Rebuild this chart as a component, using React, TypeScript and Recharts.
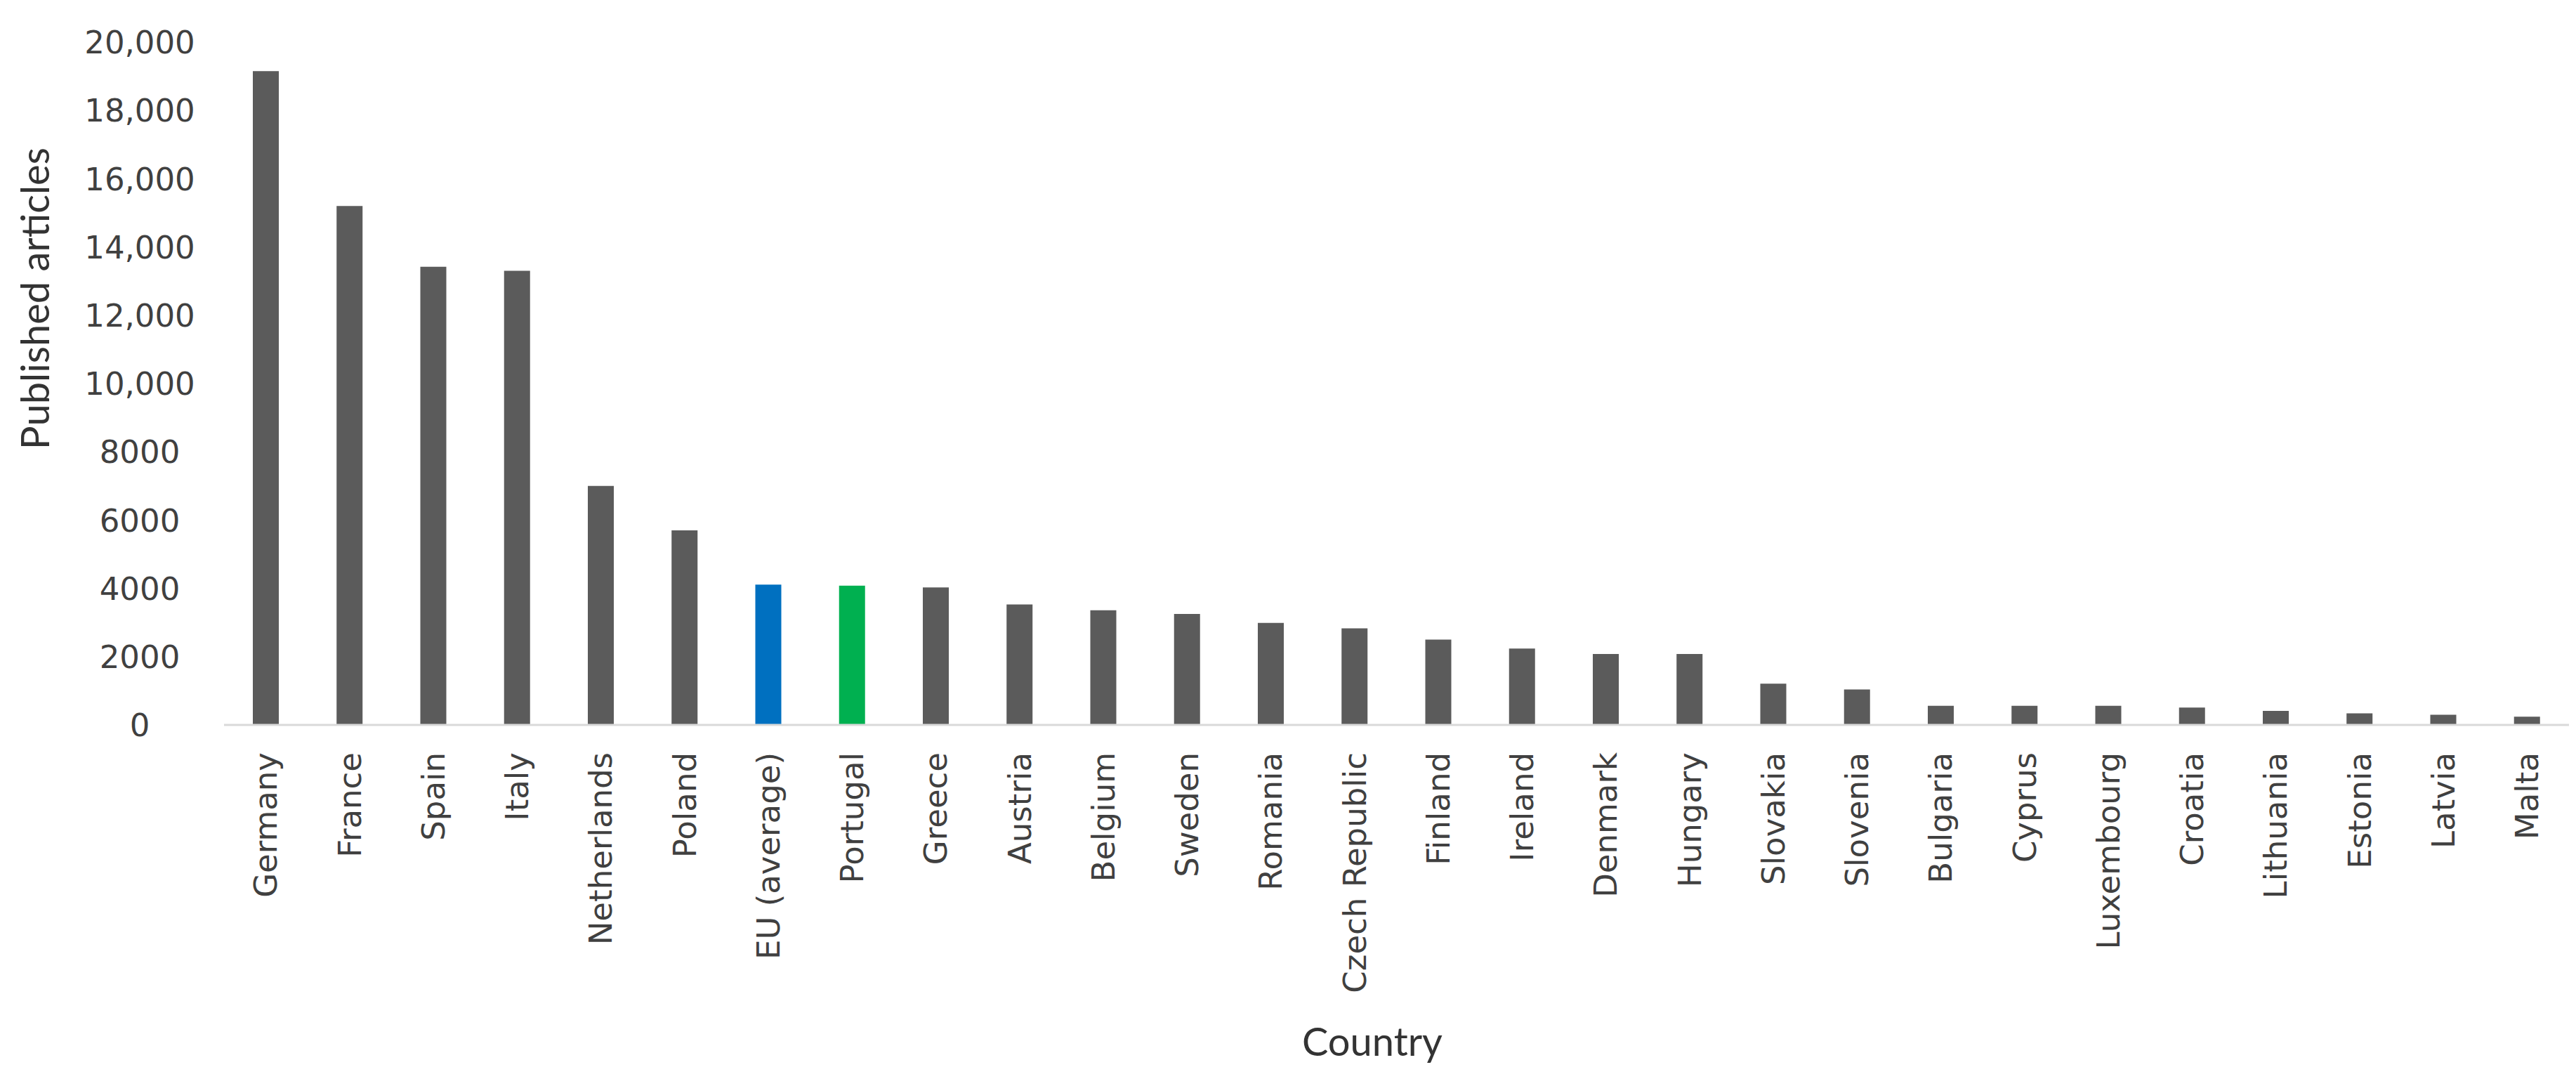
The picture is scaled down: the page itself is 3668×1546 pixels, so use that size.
import React from 'react';
import { BarChart, Bar, XAxis, YAxis, Cell, Label } from 'recharts';

// countries in display order (EU average included as its own bar)
const countries = [
  'Germany', 'France', 'Spain', 'Italy', 'Netherlands', 'Poland', 'EU (average)', 'Portugal',
  'Greece', 'Austria', 'Belgium', 'Sweden', 'Romania', 'Czech Republic', 'Finland', 'Ireland',
  'Denmark', 'Hungary', 'Slovakia', 'Slovenia', 'Bulgaria', 'Cyprus', 'Luxembourg', 'Croatia',
  'Lithuania', 'Estonia', 'Latvia', 'Malta',
];

const articles = [
  19150, 15200, 13420, 13300, 7000, 5700, 4110, 4080,
  4030, 3530, 3360, 3250, 2990, 2830, 2500, 2240,
  2080, 2080, 1210, 1040, 560, 560, 560, 510,
  410, 340, 300, 240,
];

const yTicks = [0, 2000, 4000, 6000, 8000, 10000, 12000, 14000, 16000, 18000, 20000];

const highlight: Record<string, string> = {
  'EU (average)': '#0070c0',
  Portugal: '#00b050',
};
const BASE_COLOR = '#5b5b5b';

const data = countries.map((c, i) => ({ country: c, value: articles[i] }));

const fmt = (v: number) => (v >= 10000 ? v.toLocaleString('en-US') : String(v));

const TICK_FONT = '"DejaVu Sans", Verdana, sans-serif';
const TITLE_FONT = 'Lato, "Open Sans", sans-serif';

const CountryTick = ({ x, y, payload }: any) => {
  const ty = y + 31;
  return (
    <text
      x={x}
      y={ty}
      transform={`rotate(-90, ${x}, ${ty})`}
      textAnchor="end"
      dy="0.35em"
      fill="#404040"
      fontSize={45}
      fontFamily={TICK_FONT}
    >
      {payload.value}
    </text>
  );
};

const ValueTick = ({ x, y, payload }: any) => (
  <text
    x={x - 112}
    y={y}
    textAnchor="middle"
    dy="0.36em"
    fill="#404040"
    fontSize={45}
    fontFamily={TICK_FONT}
  >
    {fmt(payload.value)}
  </text>
);

const App = () => {
  return (
    <div style={{ position: 'absolute', left: 0, top: 0, background: '#fff' }}>
      <BarChart
        width={3668}
        height={1546}
        data={data}
        margin={{ top: 60, right: 10, left: 0, bottom: 0 }}
        barCategoryGap={0}
      >
        <XAxis
          dataKey="country"
          interval={0}
          height={514}
          tickLine={false}
          axisLine={{ stroke: '#d9d9d9', strokeWidth: 3 }}
          tick={<CountryTick />}
        >
          <Label
            content={() => (
              <text x={1954} y={1503} textAnchor="middle" fill="#333" fontSize={56} fontFamily={TITLE_FONT}>
                Country
              </text>
            )}
          />
        </XAxis>
        <YAxis
          width={319}
          domain={[0, 20000]}
          ticks={yTicks}
          interval={0}
          axisLine={false}
          tickLine={false}
          tick={<ValueTick />}
        >
          <Label
            content={() => (
              <text
                x={70}
                y={425}
                transform="rotate(-90, 70, 425)"
                textAnchor="middle"
                fill="#333"
                fontSize={56}
                fontFamily={TITLE_FONT}
              >
                Published articles
              </text>
            )}
          />
        </YAxis>
        <Bar dataKey="value" barSize={37} isAnimationActive={false}>
          {data.map((d, i) => (
            <Cell key={`c-${i}`} fill={highlight[d.country] ?? BASE_COLOR} />
          ))}
        </Bar>
      </BarChart>
    </div>
  );
};

export default App;
